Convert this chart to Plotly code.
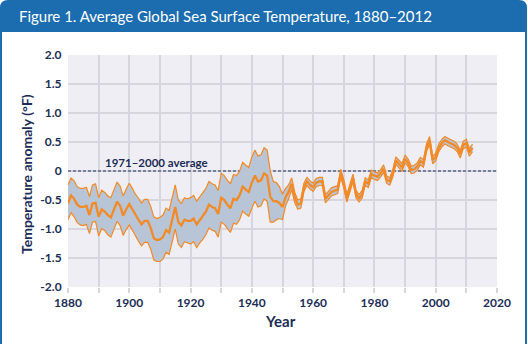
import plotly.graph_objects as go

# Annual sea surface temperature anomaly (deg F, relative to 1971-2000 average)
years = list(range(1880, 2013))

anomaly = [
    -0.56, -0.42, -0.48, -0.58, -0.62, -0.62, -0.60, -0.76, -0.56, -0.55,  # 1880s
    -0.79, -0.66, -0.70, -0.76, -0.80, -0.68, -0.53, -0.60, -0.77, -0.66,  # 1890s
    -0.57, -0.66, -0.76, -0.84, -0.92, -0.86, -0.86, -0.98, -1.16, -1.19,  # 1900s
    -1.18, -1.14, -1.02, -1.06, -0.84, -0.62, -0.88, -0.94, -0.84, -0.86,  # 1910s
    -0.86, -0.82, -0.92, -0.84, -0.78, -0.70, -0.58, -0.62, -0.64, -0.74,  # 1920s
    -0.46, -0.50, -0.58, -0.64, -0.48, -0.50, -0.42, -0.27, -0.32, -0.36,  # 1930s
    -0.20, -0.08, -0.18, -0.16, -0.04, -0.08, -0.44, -0.52, -0.52, -0.55,  # 1940s
    -0.62, -0.45, -0.36, -0.22, -0.46, -0.58, -0.56, -0.28, -0.18, -0.24,  # 1950s
    -0.28, -0.20, -0.18, -0.18, -0.48, -0.42, -0.36, -0.34, -0.32, -0.04,  # 1960s
    -0.22, -0.47, -0.28, -0.12, -0.40, -0.47, -0.40, -0.18, -0.22, -0.05,  # 1970s
    -0.08, -0.10, -0.04, 0.04, -0.15, -0.18, -0.04, 0.18, 0.12, 0.06,      # 1980s
    0.21, 0.14, 0.02, 0.03, 0.08, 0.17, 0.13, 0.40, 0.53, 0.19,            # 1990s
    0.24, 0.40, 0.48, 0.53, 0.50, 0.48, 0.45, 0.40, 0.29, 0.45,            # 2000s
    0.48, 0.32, 0.40,                                                      # 2010-2012
]

# Upper bound of the 95% confidence interval
upper = [
    -0.24, -0.12, -0.17, -0.27, -0.30, -0.30, -0.28, -0.44, -0.24, -0.22,
    -0.46, -0.33, -0.37, -0.43, -0.46, -0.34, -0.19, -0.26, -0.43, -0.31,
    -0.21, -0.30, -0.40, -0.47, -0.55, -0.49, -0.49, -0.61, -0.79, -0.82,
    -0.80, -0.76, -0.64, -0.68, -0.46, -0.24, -0.50, -0.56, -0.46, -0.48,
    -0.46, -0.42, -0.52, -0.44, -0.38, -0.30, -0.18, -0.22, -0.24, -0.34,
    -0.04, -0.08, -0.16, -0.22, -0.06, -0.08, 0.00, 0.15, 0.10, 0.06,
    0.24, 0.36, 0.26, 0.28, 0.40, 0.36, 0.00, -0.18, -0.20, -0.27,
    -0.40, -0.30, -0.24, -0.12, -0.37, -0.50, -0.48, -0.21, -0.11, -0.17,
    -0.21, -0.13, -0.11, -0.11, -0.41, -0.35, -0.29, -0.27, -0.25, 0.03,
    -0.15, -0.405, -0.215, -0.055, -0.335, -0.405, -0.335, -0.115, -0.155, 0.015,
    -0.015, -0.035, 0.025, 0.105, -0.085, -0.115, 0.025, 0.245, 0.185, 0.125,
    0.275, 0.205, 0.085, 0.095, 0.145, 0.235, 0.195, 0.465, 0.595, 0.255,
    0.305, 0.465, 0.545, 0.595, 0.565, 0.545, 0.515, 0.465, 0.355, 0.515,
    0.545, 0.385, 0.465,
]

# Lower bound of the 95% confidence interval
lower = [
    -0.84, -0.72, -0.79, -0.89, -0.93, -0.94, -0.92, -1.08, -0.88, -0.87,
    -1.12, -0.99, -1.03, -1.10, -1.14, -1.02, -0.87, -0.94, -1.11, -1.01,
    -0.93, -1.02, -1.12, -1.21, -1.29, -1.23, -1.23, -1.35, -1.53, -1.56,
    -1.56, -1.52, -1.40, -1.44, -1.22, -1.00, -1.26, -1.32, -1.22, -1.24,
    -1.26, -1.22, -1.32, -1.24, -1.18, -1.10, -0.98, -1.02, -1.04, -1.14,
    -0.88, -0.92, -1.00, -1.06, -0.90, -0.92, -0.84, -0.69, -0.74, -0.78,
    -0.64, -0.52, -0.62, -0.60, -0.48, -0.52, -0.88, -0.88, -0.84, -0.82,
    -0.84, -0.60, -0.48, -0.32, -0.55, -0.66, -0.64, -0.35, -0.25, -0.31,
    -0.35, -0.27, -0.25, -0.25, -0.55, -0.49, -0.43, -0.41, -0.39, -0.11,
    -0.29, -0.535, -0.345, -0.185, -0.465, -0.535, -0.465, -0.245, -0.285, -0.115,
    -0.145, -0.165, -0.105, -0.025, -0.215, -0.245, -0.105, 0.115, 0.055, -0.005,
    0.145, 0.075, -0.045, -0.035, 0.015, 0.105, 0.065, 0.335, 0.465, 0.125,
    0.175, 0.335, 0.415, 0.465, 0.435, 0.415, 0.385, 0.335, 0.225, 0.385,
    0.415, 0.255, 0.335,
]

x_ticks = [1880, 1900, 1920, 1940, 1960, 1980, 2000, 2020]
y_ticks = [2.0, 1.5, 1.0, 0.5, 0.0, -0.5, -1.0, -1.5, -2.0]
y_tick_labels = ["2.0", "1.5", "1.0", "0.5", "0", "-0.5", "-1.0", "-1.5", "-2.0"]

baseline_label = "1971\u20132000 average"
title_text = "Figure 1. Average Global Sea Surface Temperature, 1880\u20132012"

# Page geometry (pixels)
W, H = 528, 344
ML, MR, MT, MB = 68, 31, 55, 57

NAVY = "#1b2d55"
BLUE = "#1c6db0"
ORANGE = "#f28a26"
BAND = "#b8c5d7"
GRID = "#d7d5de"
PLOT_BG = "#f0eef5"
FONT = "Lato, 'Open Sans', sans-serif"


def px_x(px):
    return (px - ML) / (W - ML - MR)


def px_y(py):
    return (H - MB - py) / (H - MT - MB)


fig = go.Figure()

# 1971-2000 reference line, drawn first so the band covers it
fig.add_trace(go.Scatter(
    x=[1880, 2020], y=[0, 0], mode="lines",
    line=dict(color=NAVY, width=1, dash="3px,2px"),
    hoverinfo="skip", showlegend=False,
))

fig.add_trace(go.Scatter(
    x=years, y=lower, mode="lines",
    line=dict(color=ORANGE, width=1.2),
    hoverinfo="skip", showlegend=False,
))
fig.add_trace(go.Scatter(
    x=years, y=upper, mode="lines", fill="tonexty", fillcolor=BAND,
    line=dict(color=ORANGE, width=1.2),
    hoverinfo="skip", showlegend=False,
))
fig.add_trace(go.Scatter(
    x=years, y=anomaly, mode="lines",
    line=dict(color=ORANGE, width=2.3),
    hoverinfo="skip", showlegend=False,
))

# Header bar with rounded top corners, and the frame around the figure
r = 8
x0, x1 = px_x(0), px_x(W - 1)
xr = r / (W - ML - MR)
yr = r / (H - MT - MB)
ytop, ybot = px_y(0), px_y(32)
header_path = (
    f"M {x0},{ybot} L {x0},{ytop - yr} Q {x0},{ytop} {x0 + xr},{ytop} "
    f"L {x1 - xr},{ytop} Q {x1},{ytop} {x1},{ytop - yr} L {x1},{ybot} Z"
)
frame_path = (
    f"M {px_x(1)},{px_y(H)} L {px_x(1)},{ytop - yr} "
    f"M {px_x(W - 2)},{ytop - yr} L {px_x(W - 2)},{px_y(H)}"
)

fig.update_layout(
    width=W, height=H,
    margin=dict(l=ML, r=MR, t=MT, b=MB, pad=0),
    paper_bgcolor="white",
    plot_bgcolor=PLOT_BG,
    font=dict(family=FONT, color=NAVY),
    showlegend=False,
    shapes=[
        dict(type="path", xref="paper", yref="paper", path=header_path,
             fillcolor=BLUE, line=dict(width=0), layer="below"),
        dict(type="path", xref="paper", yref="paper", path=frame_path,
             line=dict(color=BLUE, width=2), layer="above"),
    ],
    annotations=[
        dict(text=title_text, xref="paper", yref="paper",
             x=px_x(17), y=px_y(16), xanchor="left", yanchor="middle",
             showarrow=False, font=dict(family=FONT, size=15, color="white")),
        dict(text=f"<b>{baseline_label}</b>", xref="x", yref="y",
             x=1909, y=0, xanchor="center", yanchor="bottom", yshift=0,
             showarrow=False, font=dict(family=FONT, size=11.5, color=NAVY)),
        dict(text="<b>Temperature anomaly (\u00b0F)</b>", xref="paper", yref="paper",
             x=px_x(26), y=px_y(174), xanchor="center", yanchor="middle",
             textangle=-90, showarrow=False,
             font=dict(family=FONT, size=14, color=NAVY)),
        dict(text="<b>Year</b>", xref="paper", yref="paper",
             x=px_x(280), y=px_y(321), xanchor="center", yanchor="middle",
             showarrow=False, font=dict(family=FONT, size=15, color=NAVY)),
    ],
    xaxis=dict(
        range=[1880, 2020],
        tickvals=list(range(1880, 2021, 10)),
        ticktext=[str(v) if v in x_ticks else "" for v in range(1880, 2021, 10)],
        showgrid=True, gridcolor=GRID, gridwidth=1.5,
        ticks="outside", ticklen=5, tickcolor=GRID, tickwidth=1.5,
        showline=False, zeroline=False,
        tickfont=dict(family=FONT, size=12, color=NAVY, weight="bold"),
        fixedrange=True,
    ),
    yaxis=dict(
        range=[-2.0, 2.0],
        tickvals=y_ticks, ticktext=y_tick_labels,
        showgrid=True, gridcolor=GRID, gridwidth=1.5,
        ticks="outside", ticklen=3, tickcolor="rgba(0,0,0,0)",
        showline=False, zeroline=False,
        tickfont=dict(family=FONT, size=12, color=NAVY, weight="bold"),
        fixedrange=True,
    ),
)

fig.write_html("out.html", config={"displayModeBar": False})
